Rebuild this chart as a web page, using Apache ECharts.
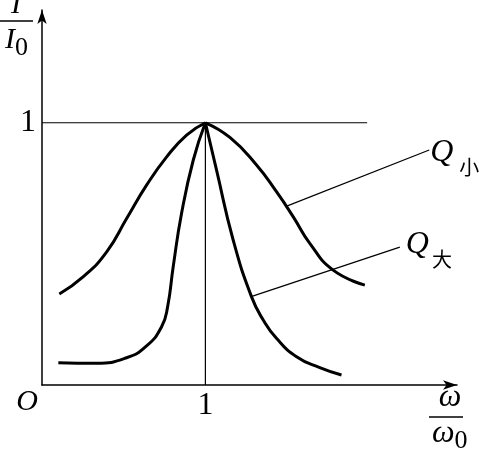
<!DOCTYPE html>
<html><head><meta charset="utf-8">
<script src="https://cdn.jsdelivr.net/npm/echarts@6/dist/echarts.min.js"></script>
<style>html,body{margin:0;padding:0;background:#fff}#c{width:479px;height:450px}</style>
</head><body><div id="c"></div>
<script>
// Resonance curves: relative current I/I0 versus relative frequency ω/ω0
const qSmallX = [0.106, 0.253, 0.396, 0.518, 0.640, 0.763, 0.885, 1.0, 1.150, 1.313, 1.435, 1.537, 1.639, 1.782, 1.976];
const qSmallY = [0.347, 0.413, 0.508, 0.635, 0.762, 0.870, 0.953, 1.0, 0.944, 0.839, 0.737, 0.642, 0.540, 0.438, 0.381];
const qLargeX = [0.100, 0.334, 0.518, 0.640, 0.732, 0.769, 0.803, 0.854, 0.926, 1.0, 1.068, 1.170, 1.282, 1.354, 1.435, 1.558, 1.700, 1.833];
const qLargeY = [0.085, 0.083, 0.104, 0.149, 0.222, 0.299, 0.451, 0.654, 0.858, 1.0, 0.820, 0.553, 0.337, 0.248, 0.178, 0.108, 0.066, 0.038];
const unitLineX = [0, 1.99];
const unitLineY = [1, 1];
const resonanceX = [1, 1];
const resonanceY = [0, 1];
const qSmallLeaderX = [1.49, 2.37];
const qSmallLeaderY = [0.68, 0.896];
const qLargeLeaderX = [1.28, 2.19];
const qLargeLeaderY = [0.337, 0.526];
const xTickLabels = ['1'];
const yTickLabels = ['1'];
const qSmallName = ['Q', '小'];
const qLargeName = ['Q', '大'];

function pairs(xs, ys) { return xs.map((x, i) => [x, ys[i]]); }
function splitAtPeak(xs, ys) {
  let k = 0;
  ys.forEach((y, i) => { if (y > ys[k]) k = i; });
  const all = pairs(xs, ys);
  return [all.slice(0, k + 1), all.slice(k)];
}
const serif = '"Liberation Serif", serif';
const curveStyle = { color: '#000', width: 3 };
const thinStyle = { color: '#000', width: 1.2 };

function curveSeries(xs, ys) {
  return splitAtPeak(xs, ys).map(d => ({
    type: 'line', data: d, smooth: 0.5, symbol: 'none', lineStyle: curveStyle, silent: true
  }));
}
function leader(xs, ys, name, offset, gap) {
  return {
    type: 'line', data: pairs(xs, ys), symbol: 'none', lineStyle: thinStyle, silent: true,
    endLabel: {
      show: true, distance: 0,
      formatter: '{q|' + name[0] + '}{s|' + name[1] + '}',
      rich: {
        q: { fontFamily: serif, fontStyle: 'italic', fontSize: 32, color: '#000', lineHeight: 32, verticalAlign: 'top' },
        s: { fontFamily: 'Noto Sans CJK SC', fontSize: 20, color: '#000', lineHeight: 20, padding: [20, 0, 0, gap], verticalAlign: 'top' }
      },
      offset: offset
    }
  };
}

const chart = echarts.init(document.getElementById('c'), null, { renderer: 'canvas' });
chart.setOption({
  animation: false,
  backgroundColor: '#fff',
  grid: { left: 42, right: 22, top: 10, bottom: 65, containLabel: false },
  xAxis: {
    type: 'value', min: 0, max: 2.54, interval: 1,
    axisLine: { symbol: ['none', 'arrow'], symbolSize: [7, 14], lineStyle: { color: '#000', width: 1.5 } },
    axisTick: { show: false }, splitLine: { show: false },
    axisLabel: { formatter: v => (v === 1 ? xTickLabels[0] : ''), fontFamily: serif, fontSize: 32, color: '#000', margin: 5, showMaxLabel: false }
  },
  yAxis: {
    type: 'value', min: 0, max: 1.43, interval: 1,
    axisLine: { symbol: ['none', 'arrow'], symbolSize: [7, 14], lineStyle: { color: '#000', width: 1.5 } },
    axisTick: { show: false }, splitLine: { show: false },
    axisLabel: { formatter: v => (v === 1 ? yTickLabels[0] : ''), fontFamily: serif, fontSize: 32, color: '#000', margin: 6, padding: [0, 0, 8, 0], showMaxLabel: false }
  },
  series: [
    { type: 'line', data: pairs(unitLineX, unitLineY), symbol: 'none', lineStyle: thinStyle, silent: true },
    { type: 'line', data: pairs(resonanceX, resonanceY), symbol: 'none', lineStyle: thinStyle, silent: true },
    ...curveSeries(qSmallX, qSmallY),
    ...curveSeries(qLargeX, qLargeY),
    leader(qSmallLeaderX, qSmallLeaderY, qSmallName, [1, 3], 6),
    leader(qLargeLeaderX, qLargeLeaderY, qLargeName, [6, -2], 3)
  ],
  graphic: [
    { type: 'text', x: 16, y: 5, style: { text: 'I', font: 'italic 30px ' + serif, fill: '#000', align: 'center', verticalAlign: 'middle' } },
    { type: 'line', shape: { x1: 0, y1: 21, x2: 33, y2: 21 }, style: { stroke: '#000', lineWidth: 1.5 } },
    { type: 'text', x: 5, y: 40, style: { text: '{i|I}{z|0}', rich: {
        i: { font: 'italic 30px ' + serif, fill: '#000', lineHeight: 30, verticalAlign: 'top' },
        z: { font: '26px ' + serif, fill: '#000', lineHeight: 26, padding: [10, 0, 0, 0], verticalAlign: 'top' } },
        align: 'left', verticalAlign: 'middle' } },
    { type: 'text', x: 27, y: 402, style: { text: 'O', font: 'italic 30px ' + serif, fill: '#000', align: 'center', verticalAlign: 'middle' } },
    { type: 'text', x: 450, y: 398, style: { text: 'ω', font: 'italic 32px ' + serif, fill: '#000', align: 'center', verticalAlign: 'middle' } },
    { type: 'line', shape: { x1: 429, y1: 417, x2: 463, y2: 417 }, style: { stroke: '#000', lineWidth: 1.5 } },
    { type: 'text', x: 432, y: 433, style: { text: '{w|ω}{z|0}', rich: {
        w: { font: 'italic 32px ' + serif, fill: '#000', lineHeight: 30, verticalAlign: 'top' },
        z: { font: '26px ' + serif, fill: '#000', lineHeight: 26, padding: [10, 0, 0, 0], verticalAlign: 'top' } },
        align: 'left', verticalAlign: 'middle' } }
  ]
});
</script>
</body></html>
